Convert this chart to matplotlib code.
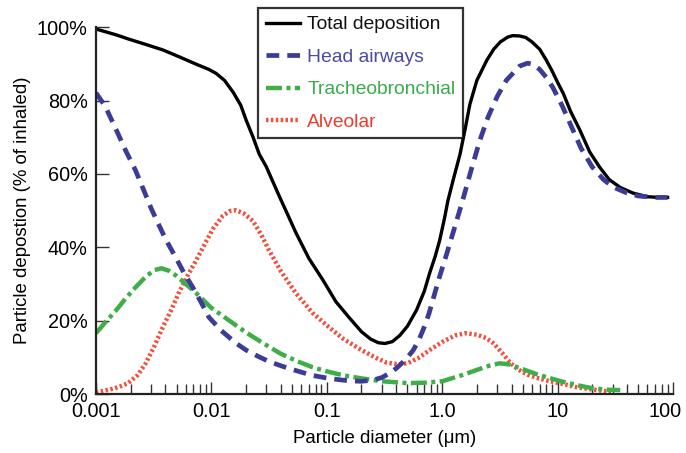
import matplotlib
matplotlib.use("Agg")
import matplotlib.pyplot as plt
from matplotlib import font_manager
from matplotlib.transforms import ScaledTranslation
from matplotlib.ticker import FixedLocator, LogLocator, NullFormatter

# --- data (diameter in um, deposition in %) ---
total_d = [0.001, 0.0015, 0.0019, 0.0027, 0.0038, 0.0052, 0.0074, 0.0095, 0.011,
           0.013, 0.0155, 0.018, 0.02, 0.023, 0.026, 0.03, 0.034, 0.04, 0.045,
           0.054, 0.07, 0.093, 0.12, 0.155, 0.2, 0.24, 0.28, 0.32, 0.37, 0.43,
           0.5, 0.6, 0.7, 0.78, 0.87, 0.95, 1.05, 1.12, 1.25, 1.43, 1.6, 1.74,
           2.0, 2.44, 2.8, 3.2, 3.7, 4.1, 4.7, 5.3, 6.0, 7.0, 8.0, 9.0, 10,
           11.2, 13, 15.6, 19, 23, 28, 35, 45, 60, 75, 90]
total_v = [99.5, 97.9, 96.8, 95.3, 93.8, 92.0, 89.9, 88.5, 87.4,
           85.5, 82.2, 78.7, 74.7, 70.0, 65.4, 61.9, 58.0, 53.0, 49.5,
           44.0, 37.0, 31.0, 25.2, 21.0, 17.0, 15.0, 14.0, 13.8, 14.3, 16.0,
           18.5, 22.9, 28.0, 33.0, 37.5, 41.8, 48.0, 52.6, 58.5, 65.4, 73.0, 79.0,
           85.5, 91.0, 94.0, 96.0, 97.3, 97.7, 97.6, 97.2, 96.0, 94.0, 91.0, 88.0, 85.0,
           82.0, 77.0, 72.0, 66.0, 62.0, 58.5, 56.3, 54.8, 53.8, 53.6, 53.6]

head_d = [0.001, 0.0012, 0.0015, 0.0018, 0.0022, 0.0026, 0.003, 0.0034, 0.0038,
          0.0043, 0.0049, 0.0058, 0.0069, 0.008, 0.0095, 0.012, 0.0163, 0.02,
          0.025, 0.031, 0.0386, 0.048, 0.06, 0.075, 0.1, 0.13, 0.16, 0.2, 0.25,
          0.3, 0.35, 0.4, 0.45, 0.5, 0.56, 0.63, 0.7, 0.77, 0.83, 0.95, 1.1,
          1.3, 1.5, 1.8, 2.13, 2.5, 3.0, 3.6, 4.7, 5.5, 6.1, 7.0, 8.0, 9.1,
          11, 13.6, 16, 20, 25, 30, 40, 50, 70, 90]
head_v = [82.1, 78.5, 72.0, 66.5, 61.0, 55.5, 50.7, 47.0, 43.8,
          40.5, 37.3, 33.0, 29.1, 25.5, 21.0, 17.5, 13.9, 12.0,
          10.4, 9.0, 7.9, 6.9, 6.0, 5.1, 4.4, 3.9, 3.6, 3.5, 3.8,
          4.5, 5.7, 7.0, 8.5, 10.0, 11.9, 14.8, 18.3, 22.0, 25.6, 32.0, 38.4,
          46.0, 52.6, 61.5, 69.3, 75.5, 81.1, 85.5, 89.4, 90.2, 89.9, 88.5, 86.3, 83.6,
          78.5, 72.0, 67.0, 61.9, 58.5, 56.5, 54.8, 54.0, 53.6, 53.6]

tb_d = [0.001, 0.0012, 0.0015, 0.0018, 0.0022, 0.0027, 0.0032, 0.0037, 0.0043,
        0.0049, 0.006, 0.0074, 0.01, 0.0142, 0.02, 0.028, 0.04, 0.055, 0.0757,
        0.1, 0.14, 0.2, 0.3, 0.5, 0.7, 1.0, 1.5, 2.0, 2.6, 3.16, 3.8, 5.0,
        6.5, 8.1, 11, 15, 20, 27, 35]
tb_v = [16.6, 19.5, 22.9, 26.0, 29.1, 32.0, 33.8, 34.3, 33.6,
        32.4, 30.0, 27.5, 23.5, 20.1, 16.8, 13.9, 11.0, 9.0, 7.3,
        6.2, 5.1, 4.3, 3.5, 3.0, 3.1, 3.5, 5.2, 6.6, 7.8, 8.4, 8.1, 6.8,
        5.5, 4.6, 3.4, 2.4, 1.6, 1.2, 1.1]

alv_d = [0.001, 0.0013, 0.0016, 0.0019, 0.0023, 0.0027, 0.0032, 0.0038, 0.0045,
         0.0052, 0.0062, 0.0074, 0.0088, 0.0103, 0.0125, 0.0145, 0.0163, 0.019,
         0.0229, 0.027, 0.0316, 0.04, 0.054, 0.075, 0.104, 0.14, 0.2, 0.27,
         0.33, 0.42, 0.5, 0.62, 0.78, 1.0, 1.3, 1.6, 2.0, 2.4, 2.8, 3.4, 3.9,
         4.5, 5.5, 6.5, 8.1, 11, 15, 22, 30]
alv_v = [0.5, 1.2, 2.0, 3.0, 5.2, 8.4, 13.0, 18.3, 23.0,
         27.5, 32.2, 36.5, 41.0, 45.0, 48.5, 49.9, 50.1, 49.3,
         47.2, 43.5, 39.2, 33.5, 27.5, 22.2, 18.3, 15.0, 12.0, 9.8,
         8.6, 8.1, 8.4, 9.8, 12.0, 14.2, 16.0, 16.6, 16.2, 15.3, 13.8, 10.8, 8.5,
         6.8, 5.3, 4.5, 3.7, 2.8, 1.8, 1.1, 0.5]

x_ticks = [0.001, 0.01, 0.1, 1.0, 10, 100]
x_labels = ["0.001", "0.01", "0.1", "1.0", "10", "100"]
y_ticks = [0, 20, 40, 60, 80, 100]
y_labels = ["0%", "20%", "40%", "60%", "80%", "100%"]

names = ["Total deposition", "Head airways", "Tracheobronchial", "Alveolar"]
colors = ["#000000", "#3c3c96", "#3fae49", "#f0503c"]
text_colors = ["#111111", "#4a4aa0", "#3aaa4a", "#ee3b30"]

# narrow font if it is there, otherwise plain Liberation Sans a bit smaller
avail = {f.name for f in font_manager.fontManager.ttflist}
if "Liberation Sans Narrow" in avail:
    fam, k = "Liberation Sans Narrow", 1.0
else:
    fam, k = "Liberation Sans", 0.84
plt.rcParams["font.family"] = [fam, "DejaVu Sans"]

fig = plt.figure(figsize=(6.86, 4.53), dpi=100)
ax = fig.add_axes([0.1399, 0.130, 0.841, 0.810])

ax.plot(alv_d, alv_v, color=colors[3], lw=3.2, dashes=(0.55, 0.55),
        dash_capstyle="butt", label=names[3])
ax.plot(tb_d, tb_v, color=colors[2], lw=3.2, dashes=(3.6, 1.0, 0.9, 1.0),
        dash_capstyle="butt", label=names[2])
ax.plot(total_d, total_v, color=colors[0], lw=2.4, label=names[0])
ax.plot(head_d, head_v, color=colors[1], lw=3.4, dashes=(2.7, 1.7),
        dash_capstyle="butt", label=names[1])

ax.set_xscale("log")
ax.set_xlim(0.001, 100)
ax.set_ylim(0, 100)

ax.xaxis.set_major_locator(FixedLocator(x_ticks))
ax.set_xticklabels(x_labels)
ax.xaxis.set_minor_locator(LogLocator(base=10, subs=range(2, 10)))
ax.xaxis.set_minor_formatter(NullFormatter())
ax.set_yticks(y_ticks)
ax.set_yticklabels(y_labels)

ax.tick_params(axis="both", which="major", direction="in", length=9,
               width=1.0, color="#333333", labelsize=17 * k)
ax.tick_params(axis="x", which="minor", direction="in", length=7,
               width=1.0, color="#333333")
ax.tick_params(axis="x", which="major", pad=6)
ax.tick_params(axis="y", which="major", pad=6)

# keep the "100" label inside the figure
lab = ax.get_xticklabels()[-1]
lab.set_transform(lab.get_transform() + ScaledTranslation(-6 / 72, 0, fig.dpi_scale_trans))

for s in ["top", "right"]:
    ax.spines[s].set_visible(False)
for s in ["left", "bottom"]:
    ax.spines[s].set_linewidth(1.6)
    ax.spines[s].set_color("#222222")

ax.set_xlabel("Particle diameter (\u03bcm)", fontsize=16 * k, labelpad=6)
ax.set_ylabel("Particle depostion (% of inhaled)", fontsize=16 * k, labelpad=4)

handles, labels = ax.get_legend_handles_labels()
order = [2, 3, 1, 0]
leg = ax.legend([handles[i] for i in order], [labels[i] for i in order],
                loc="upper left", bbox_to_anchor=(0.281, 1.052),
                fontsize=16.5 * k, frameon=True, fancybox=False,
                handlelength=1.8, handletextpad=0.35, labelspacing=0.78,
                borderpad=0.4, borderaxespad=0.0)
leg.get_frame().set_edgecolor("black")
leg.get_frame().set_linewidth(1.6)
for t, c in zip(leg.get_texts(), text_colors):
    t.set_color(c)

fig.savefig("out.png", dpi=100)
